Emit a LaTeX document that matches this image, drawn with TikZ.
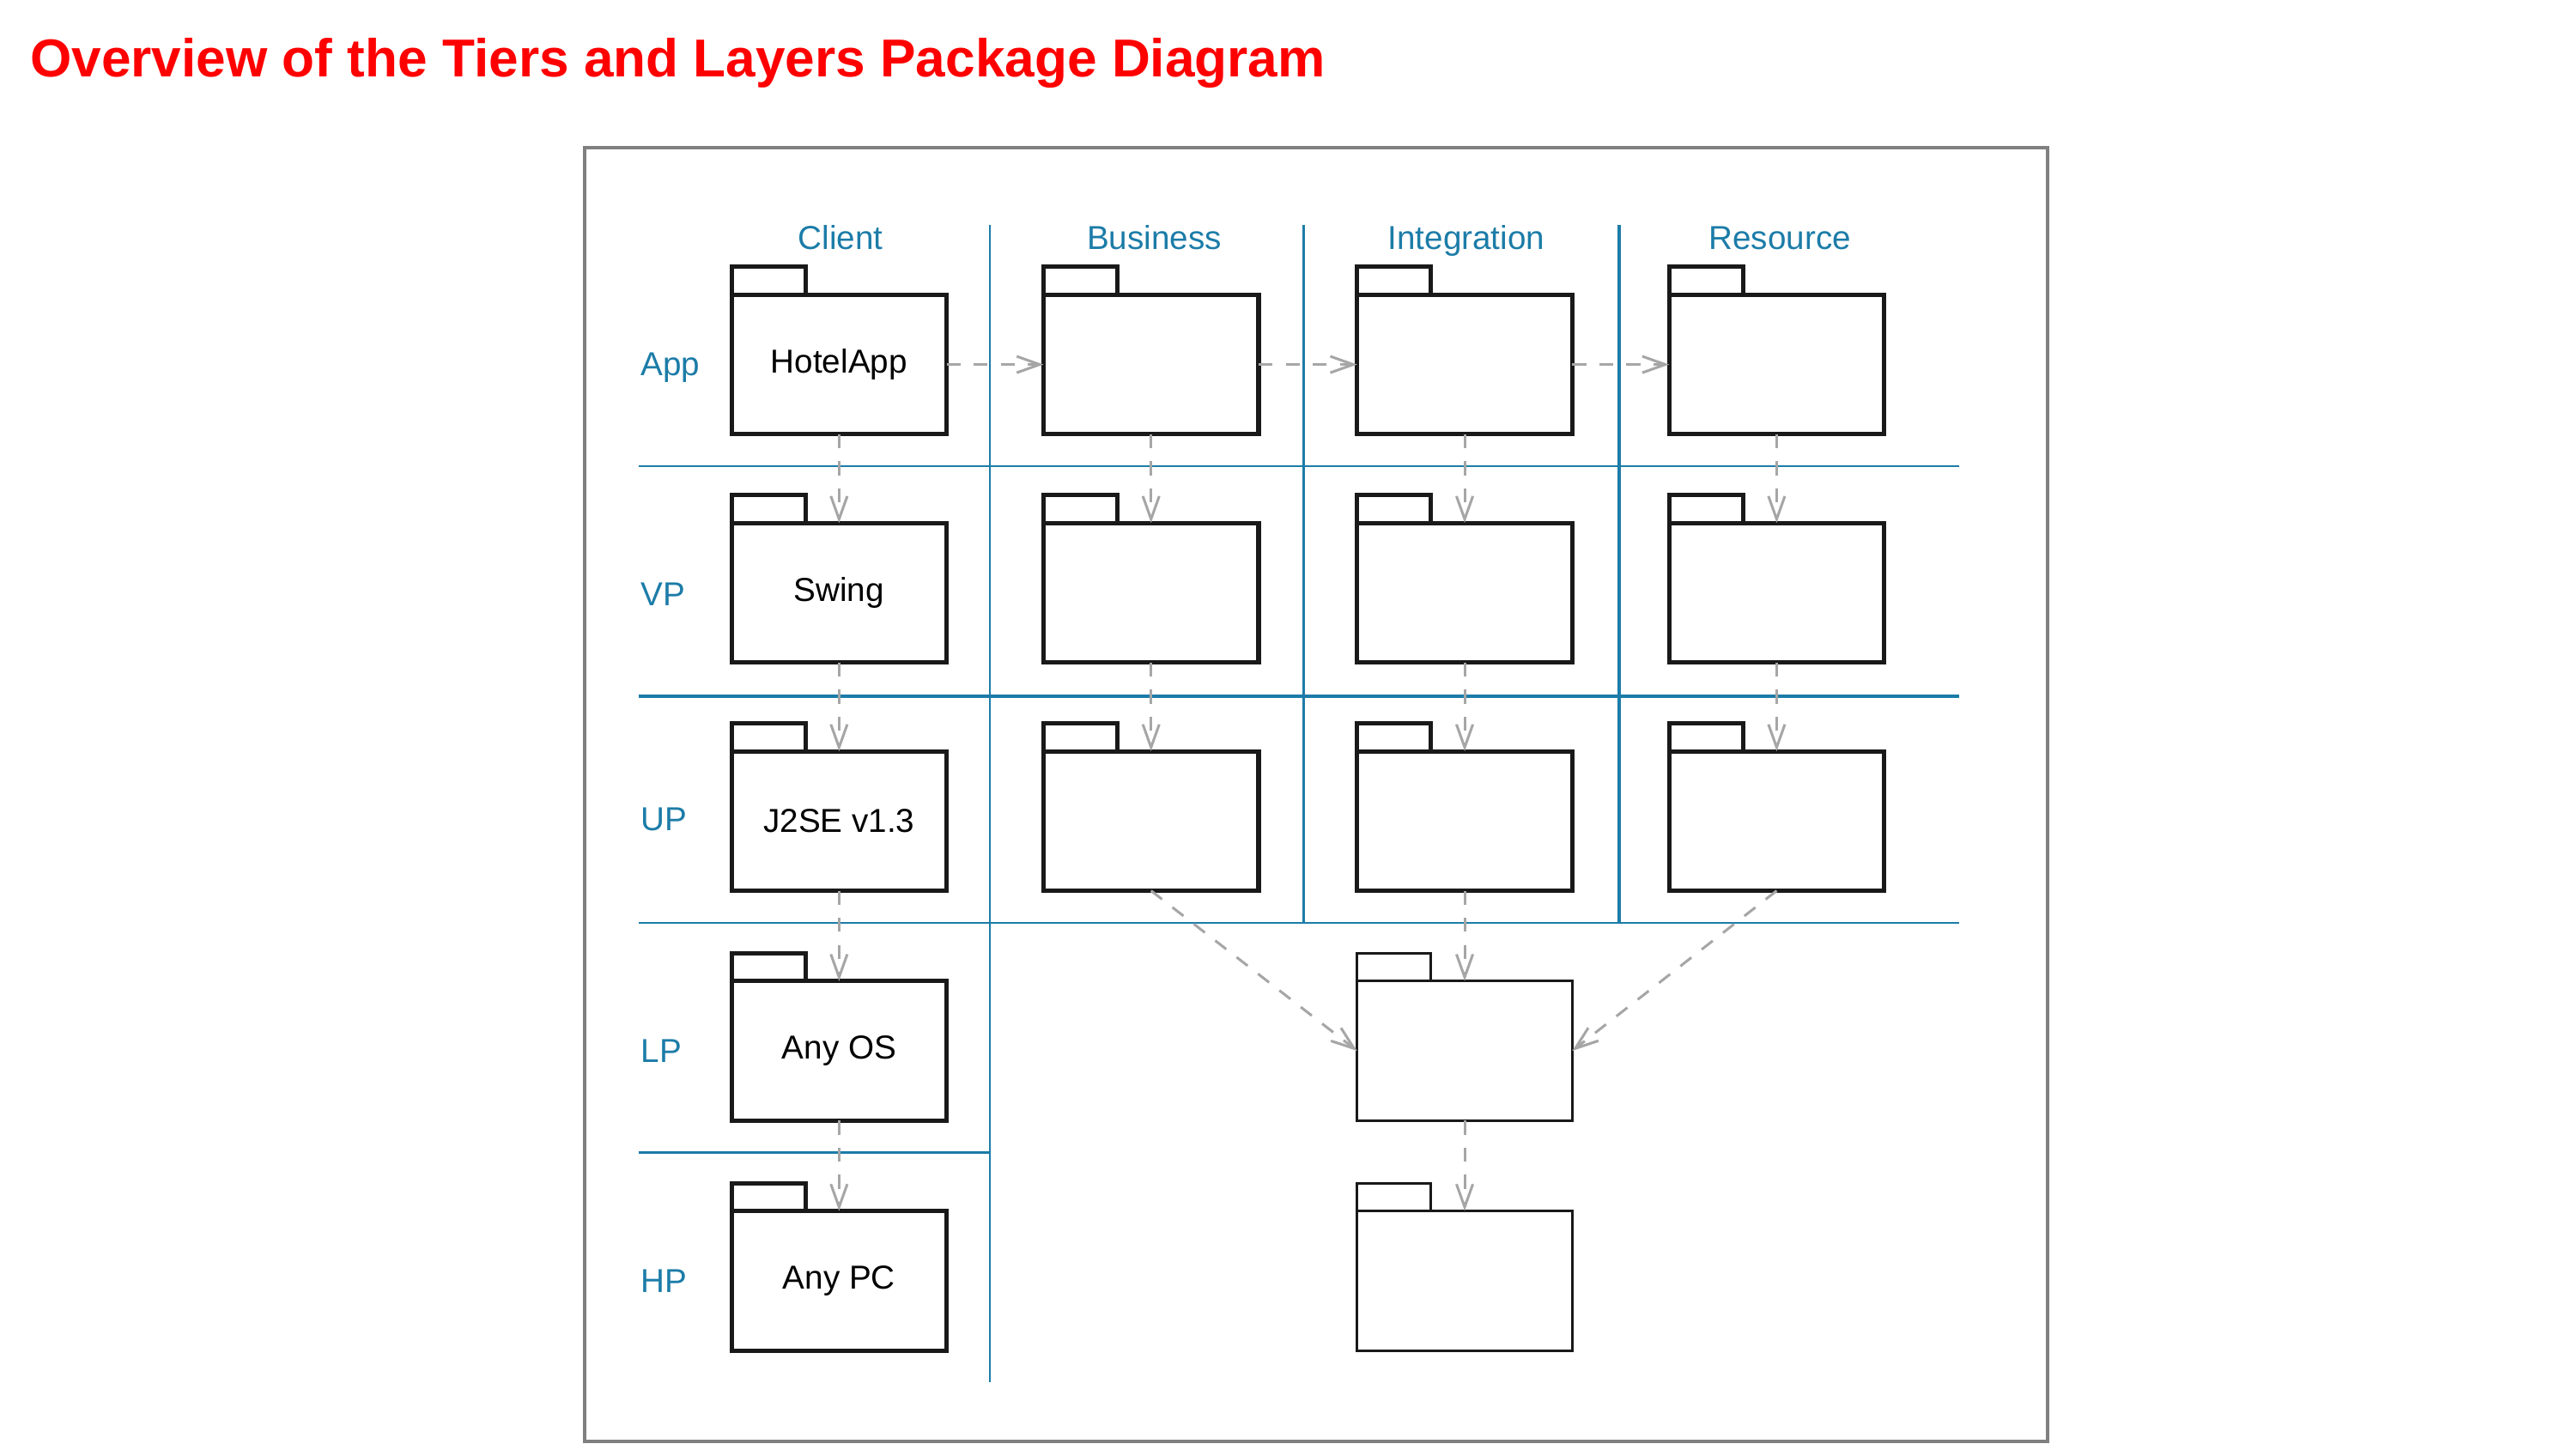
\documentclass[tikz,border=0pt]{standalone}
\usepackage{fontspec}
\setmainfont{Liberation Sans}
\usetikzlibrary{arrows.meta}
\usetikzlibrary{positioning}
\definecolor{tierblue}{RGB}{28,124,168}
\definecolor{framegray}{RGB}{128,128,128}
\begin{document}
\begin{tikzpicture}[line cap=butt,line join=miter,>={Straight Barb[length=0.28cm,width=0.2cm]},x=0.02cm,y=0.02cm,
 pkg/.style={draw=black!90,line width=1.5pt,minimum width=2.62cm,minimum height=1.7cm,inner sep=0pt,outer sep=0pt,font=\fontsize{11.5}{13}\selectfont},
 pkgthin/.style={pkg,line width=0.9pt},
 dep/.style={->,draw=gray!70,line width=0.9pt,dash pattern=on 0.17cm off 0.16cm},
 tier/.style={text=tierblue,inner sep=0pt,font=\fontsize{11.5}{13}\selectfont},
 sep/.style={draw=tierblue,line width=0.7pt},
 sepbold/.style={draw=tierblue,line width=1.3pt}]
\useasboundingbox (0,0) rectangle (1567,-886.3);
\node[anchor=base west,inner sep=0pt,text=red,font=\fontsize{18.5}{22}\selectfont\bfseries] (title) at (18,-47) {Overview of the Tiers and Layers Package Diagram};
\draw[color=framegray,line width=1.2pt] (356,-90) rectangle (1247,-878);
\draw[sep] (603,-137) -- (603,-842);
\draw[sep] (794,-137) -- (794,-562);
\draw[sepbold] (986,-137) -- (986,-562);
\draw[sep] (389,-284) -- (1193,-284);
\draw[sepbold] (389,-424) -- (1193,-424);
\draw[sep] (389,-562) -- (1193,-562);
\draw[sep] (389,-702) -- (603,-702);
\foreach \t/\x in {Client/512,Business/703,Integration/893,Resource/1084}
\node[tier,anchor=base] (\t-lbl) at (\x,-152) {\t};
\foreach \t/\y in {App/-222,VP/-362,UP/-499,LP/-640,HP/-780}
\node[tier,anchor=base west] (\t-lbl) at (390,\y-7) {\t};
\foreach \r/\y/\t in {App/-222/HotelApp,Vp/-361/Swing,Up/-500/J2SE v1.3,Lp/-640/Any OS,Hp/-780/Any PC}
\node[pkg] (\r Client) at (511,\y) {\t};
\foreach \c/\x in {Business/701,Integration/892,Resource/1082}
\foreach \r/\y in {App/-222,Vp/-361,Up/-500}
\node[pkg] (\r\c) at (\x,\y) {};
\node[pkgthin] (LpIntegration) at (892,-640) {};
\node[pkgthin] (HpIntegration) at (892,-780) {};
\foreach \n in {App,Vp,Up,Lp,Hp}
\draw[draw=black!90,line width=1.5pt] (\n Client.north west) rectangle ++(45,17);
\foreach \c in {Business,Integration,Resource}
\foreach \n in {App,Vp,Up}
\draw[draw=black!90,line width=1.5pt] (\n\c.north west) rectangle ++(45,17);
\foreach \n in {Lp,Hp}
\draw[draw=black!90,line width=0.9pt] (\n Integration.north west) rectangle ++(45,17);
\foreach \a/\b in {Client/Business,Business/Integration,Integration/Resource}
\draw[dep] (App\a) -- (App\b);
\foreach \c in {Client,Business,Integration,Resource}
{\draw[dep] (App\c) -- (Vp\c);
\draw[dep] (Vp\c) -- (Up\c);}
\draw[dep] (UpClient) -- (LpClient);
\draw[dep] (LpClient) -- (HpClient);
\draw[dep] (UpIntegration) -- (LpIntegration);
\draw[dep] (LpIntegration) -- (HpIntegration);
\draw[dep] (UpBusiness.south) -- (LpIntegration.west);
\draw[dep] (UpResource.south) -- (LpIntegration.east);
\end{tikzpicture}
\end{document}
